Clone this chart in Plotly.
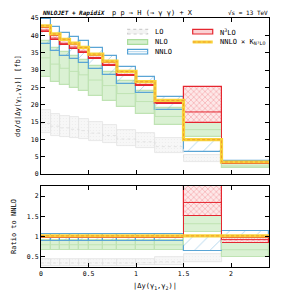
import plotly.graph_objects as go
from plotly.subplots import make_subplots

# ---------------- data ----------------
bin_edges = [0.0, 0.1, 0.2, 0.3, 0.4, 0.5, 0.65, 0.8, 1.0, 1.2, 1.5, 1.9, 2.4]

lo_c  = [14.6, 13.8, 13.3, 12.9, 12.5, 11.8, 11.1, 10.1, 9.3, 7.9, 4.4, None]
lo_lo = [11.7, 11.1, 10.7, 10.4, 10.0, 9.5, 8.9, 8.1, 7.5, 6.0, 3.5, None]
lo_hi = [18.4, 17.4, 16.8, 16.3, 15.8, 14.9, 14.0, 12.8, 11.8, 10.4, 5.5, None]

nlo_c  = [33.5, 31.7, 30.5, 29.6, 28.6, 27.1, 25.5, 23.2, 20.9, 16.6, 12.8, 2.3]
nlo_lo = [27.9, 26.6, 25.6, 24.8, 23.9, 22.5, 21.1, 19.3, 17.3, 14.0, 10.8, 1.65]
nlo_hi = [38.5, 36.4, 35.1, 34.0, 32.9, 31.2, 29.3, 26.7, 24.0, 19.1, 14.7, 2.9]

nnlo_c  = [41.9, 39.6, 38.1, 37.0, 35.8, 33.9, 31.9, 29.0, 26.1, 20.8, 9.7, 3.4]
nnlo_lo = [37.5, 35.4, 34.1, 33.1, 32.0, 30.3, 28.6, 26.0, 23.4, 18.6, 6.3, 3.3]
nnlo_hi = [44.8, 42.4, 40.8, 39.6, 38.3, 36.3, 34.1, 31.0, 27.9, 22.3, 9.7, 3.85]

n3lo_c  = [41.5, 39.2, 37.7, 36.6, 35.4, 33.6, 31.6, 28.7, 25.8, 20.6, 17.9, 3.15]
n3lo_lo = [40.9, 38.6, 37.1, 36.1, 34.9, 33.1, 31.1, 28.3, 25.4, 20.3, 14.7, 2.9]
n3lo_hi = [42.1, 39.8, 38.3, 37.2, 36.0, 34.1, 32.1, 29.1, 26.2, 20.9, 25.2, 3.25]

k_n3lo = 1.02  # NNLO x K_N3LO rescaling factor

y_ticks_top = [0, 5, 10, 15, 20, 25, 30, 35, 40, 45]
y_ticks_ratio = [0.5, 1, 1.5, 2]
x_ticks = [0, 0.5, 1, 1.5, 2]
x_tick_text = ["0", "0.5", "1", "1.5", "2"]

# ---------------- helpers ----------------
centers = [(a + b) / 2 for a, b in zip(bin_edges[:-1], bin_edges[1:])]
widths = [b - a for a, b in zip(bin_edges[:-1], bin_edges[1:])]


def ratio(vals):
    return [None if v is None else v / n for v, n in zip(vals, nnlo_c)]


def step(vals):
    return list(bin_edges), list(vals) + [vals[-1]]


FONT = "DejaVu Sans Mono"

fig = make_subplots(rows=2, cols=1, shared_xaxes=True)

styles = {
    "LO": dict(fill="#f5f5f5", line="#e2e2e2", cline="#dddddd",
               pattern=dict(shape=".", fgcolor="#e6e6e6", bgcolor="#f7f7f7", size=3, solidity=0.15)),
    "NLO": dict(fill="rgba(205,236,196,0.75)", line="#bfe3b3", cline="#bfe3b3",
                pattern=None),
    "NNLO": dict(fill="rgba(255,255,255,0)", line="#5aa5d5", cline="#5aa5d5",
                 pattern=dict(shape="/", fgcolor="#5aa5d5", bgcolor="rgba(255,255,255,0)", size=11, solidity=0.08)),
    "N3LO": dict(fill="#fbd2d4", line="#e5262f", cline="#e5262f",
                 pattern=dict(shape="x", fgcolor="#f07a80", bgcolor="#fde8e8", size=4, solidity=0.35)),
}

bands = [
    ("LO", lo_lo, lo_hi, lo_c),
    ("NLO", nlo_lo, nlo_hi, nlo_c),
    ("NNLO", nnlo_lo, nnlo_hi, nnlo_c),
    ("N3LO", n3lo_lo, n3lo_hi, n3lo_c),
]

for row in (1, 2):
    for name, lo, hi, c in bands:
        st = styles[name]
        if row == 2:
            lo, hi, c = ratio(lo), ratio(hi), ratio(c)
        height = [None if (a is None or b is None) else b - a for a, b in zip(lo, hi)]
        marker = dict(color=st["fill"], line=dict(color=st["line"], width=1.2 if name != "LO" else 0.8))
        if st["pattern"]:
            marker["pattern"] = st["pattern"]
        fig.add_trace(go.Bar(x=centers, y=height, base=lo, width=widths, marker=marker,
                             showlegend=False, hoverinfo="skip"), row=row, col=1)
        if name in ("NLO", "N3LO", "LO"):
            xs, ys = step(c)
            fig.add_trace(go.Scatter(x=xs, y=ys, mode="lines", line_shape="hv",
                                     line=dict(color=st["cline"], width=1.0 if name != "LO" else 0.8,
                                               dash="dot" if name == "LO" else "solid"),
                                     showlegend=False, hoverinfo="skip"), row=row, col=1)
    # NNLO x K line
    kvals = [v * k_n3lo for v in nnlo_c]
    if row == 2:
        kvals = ratio(kvals)
    xs, ys = step(kvals)
    fig.add_trace(go.Scatter(x=xs, y=ys, mode="lines", line_shape="hv",
                             line=dict(color="#f8d33a", width=3.2),
                             showlegend=False, hoverinfo="skip"), row=row, col=1)
    fig.add_trace(go.Scatter(x=xs, y=ys, mode="lines", line_shape="hv",
                             line=dict(color="#f29a2e", width=1.0, dash="3px,2px"),
                             showlegend=False, hoverinfo="skip"), row=row, col=1)

axis_common = dict(showline=True, linecolor="black", linewidth=1.2, mirror="ticks",
                   ticks="inside", ticklen=4, tickcolor="black", tickwidth=1,
                   showgrid=False, zeroline=False, automargin=False,
                   tickfont=dict(family=FONT, size=6.5, color="black"))

# page body adds an 8px offset; figure sized to fit the 284x301 window
fig.update_layout(
    width=268, height=285,
    margin=dict(l=33, r=7, t=10, b=26, autoexpand=False),
    paper_bgcolor="white", plot_bgcolor="white",
    barmode="overlay", bargap=0,
    showlegend=False,
    font=dict(family=FONT, size=7, color="black"),
)
fig.update_xaxes(**axis_common, range=[0, 2.4], tickvals=x_ticks, ticktext=x_tick_text)
fig.update_xaxes(showticklabels=False, row=1, col=1)
fig.update_xaxes(title=dict(text="|Δy(γ<sub>1</sub>,γ<sub>2</sub>)|", font=dict(family=FONT, size=7), standoff=6),
                 row=2, col=1)
fig.update_yaxes(**axis_common)
fig.update_yaxes(range=[0, 45], tickvals=y_ticks_top, domain=[0.3735, 1.0],
                 title=dict(text="dσ/d|Δy(γ<sub>1</sub>,γ<sub>2</sub>)| [fb]", font=dict(family=FONT, size=7),
                            standoff=9),
                 row=1, col=1)
fig.update_yaxes(range=[0.25, 2.25], tickvals=y_ticks_ratio, ticktext=["0.5", "1", "1.5", "2"],
                 domain=[0.0, 0.325],
                 title=dict(text="Ratio to NNLO", font=dict(family=FONT, size=7), standoff=9),
                 row=2, col=1)

# ---------------- header ----------------
y_head = 1 + 9.5 / 249
fig.add_annotation(x=0.0, y=y_head, xref="paper", yref="paper", xanchor="left", yanchor="top", borderpad=0,
                   text="<b><i>NNLOJET + RapidiX</i></b>", showarrow=False, font=dict(family=FONT, size=6))
fig.add_annotation(x=0.307, y=y_head, xref="paper", yref="paper", xanchor="left", yanchor="top", borderpad=0,
                   text="p p → H (→ γ γ) + X", showarrow=False, font=dict(family=FONT, size=7))
fig.add_annotation(x=1.0, y=y_head, xref="paper", yref="paper", xanchor="right", yanchor="top", borderpad=0,
                   text="√s = 13 TeV", showarrow=False, font=dict(family=FONT, size=6))

# ---------------- legend (drawn) ----------------
def px2dom(px, py):
    return (px - 41) / 227.7, (174 - py) / 156


legend_items = [
    ("LO", 127.5, 31.7, "box", "#f3f3f3", "#cfcfcf", "dot"),
    ("NLO", 127.5, 42.0, "box", "#d6efcf", "#a9dc9b", "solid"),
    ("NNLO", 127.5, 51.7, "box", "#ffffff", "#4f9fd4", "solid"),
    ("N<sup>3</sup>LO", 192.5, 31.7, "box", "#fbd2d4", "#e5262f", "solid"),
    ("NNLO × K<sub>N³LO</sub>", 192.5, 42.0, "line", None, None, None),
]
for label, px, py, kind, fill, edge, dash in legend_items:
    x0, yc = px2dom(px, py)
    x1, _ = px2dom(px + 20, py)
    h = 2.3 / 156
    if kind == "box":
        fig.add_shape(type="rect", xref="x domain", yref="y domain", x0=x0, x1=x1, y0=yc - h, y1=yc + h,
                      fillcolor=fill, line=dict(color=edge, width=1.2, dash=dash))
        if label == "NNLO":
            fig.add_shape(type="line", xref="x domain", yref="y domain", x0=x0, x1=x1, y0=yc, y1=yc,
                          line=dict(color="#9cc8e6", width=0.8))
    else:
        fig.add_shape(type="line", xref="x domain", yref="y domain", x0=x0, x1=x1, y0=yc, y1=yc,
                      line=dict(color="#f8d33a", width=3))
        fig.add_shape(type="line", xref="x domain", yref="y domain", x0=x0, x1=x1, y0=yc, y1=yc,
                      line=dict(color="#f29a2e", width=1, dash="3px,2px"))
    tx, _ = px2dom(px + 25, py)
    fig.add_annotation(x=tx, y=yc, xref="x domain", yref="y domain", xanchor="left", yanchor="middle",
                       text=label, showarrow=False, font=dict(family=FONT, size=7))

fig.write_html("out.html")
